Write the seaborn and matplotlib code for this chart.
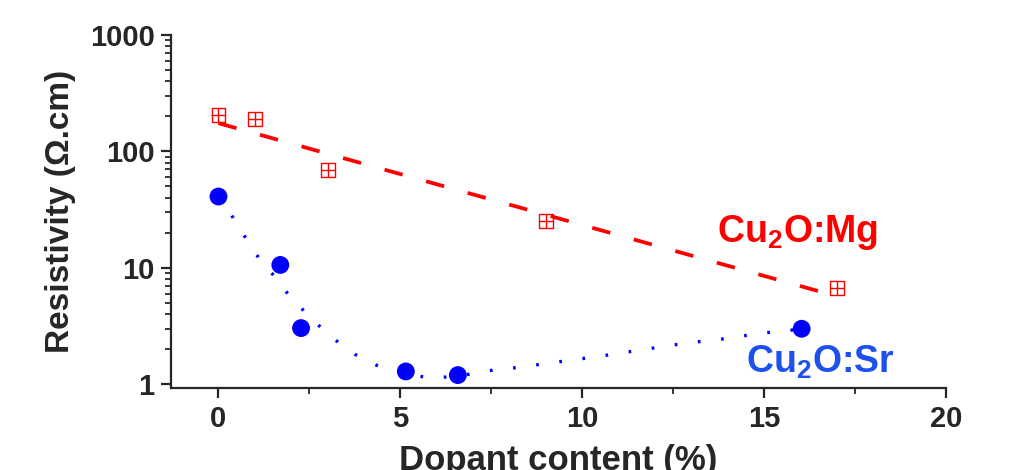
import numpy as np
import pandas as pd
import seaborn as sns
import matplotlib.pyplot as plt

# Cu2O:Mg measured points
mg_x = [0, 1, 3, 9, 17]
mg_y = [204, 189, 69, 25.4, 6.7]
# Cu2O:Mg linear fit (dashed)
mg_fit_x = [0, 17]
mg_fit_y = [175, 5.7]

# Cu2O:Sr measured points
sr_x = [0, 1.7, 2.27, 5.15, 6.58, 16.03]
sr_y = [41, 10.6, 3.04, 1.29, 1.2, 3.0]
# Cu2O:Sr guide curve (dotted)
sr_curve_x = [0, 0.30, 0.55, 0.85, 1.12, 1.48, 1.81, 2.16, 2.55, 2.90, 3.32, 3.75,
              4.19, 4.63, 5.15, 5.67, 6.16, 6.58, 7.18, 7.73, 8.30, 8.88, 10.47,
              12.85, 13.81, 14.93, 16.03]
sr_curve_y = [41, 30.4, 22.6, 16.1, 12.0, 8.9, 6.5, 4.9, 3.7, 2.9, 2.26, 1.81,
              1.52, 1.35, 1.25, 1.15, 1.15, 1.17, 1.27, 1.35, 1.40, 1.49, 1.74,
              2.26, 2.44, 2.75, 2.98]

sns.set_style("ticks")
plt.rcParams['font.family'] = ['Liberation Sans', 'DejaVu Sans']
plt.rcParams['mathtext.fontset'] = 'custom'
plt.rcParams['mathtext.bf'] = 'Liberation Sans:bold'
plt.rcParams['mathtext.rm'] = 'Liberation Sans'

fig = plt.figure(figsize=(10.25, 4.70), dpi=100)
ax = fig.add_axes([0.167, 0.1745, 0.756, 0.751])

red = "#ff0000"
blue = "#0000ff"
blue_txt = "#1e50f0"

# Mg: dashed fit + crossed squares
sns.lineplot(x=mg_fit_x, y=mg_fit_y, ax=ax, color=red, lw=2.7,
             linestyle=(0, (5, 6.5)), sort=False)
sns.scatterplot(x=mg_x, y=mg_y, ax=ax, marker='s', s=100, facecolor='none',
                edgecolor=red, linewidth=1.0, zorder=3)
sns.scatterplot(x=mg_x, y=mg_y, ax=ax, marker='+', s=100, color=red,
                linewidth=1.0, zorder=3)

# Sr: dotted guide + filled circles
sns.lineplot(x=sr_curve_x, y=sr_curve_y, ax=ax, color=blue, lw=2.4,
             linestyle=(0, (0.8, 6.2)), sort=False)
sns.scatterplot(x=sr_x, y=sr_y, ax=ax, marker='o', s=165, color=blue,
                edgecolor='none', zorder=4)

ax.set_yscale('log')
ax.set_xlim(-1.3, 20)
ax.set_ylim(0.93, 1000)
ax.set_xticks([0, 5, 10, 15, 20])
ax.set_xticks([2.5, 7.5, 12.5, 17.5], minor=True)
ax.set_yticks([1, 10, 100, 1000])
ax.set_yticklabels(['1', '10', '100', '1000'])

sns.despine(ax=ax)
for s in ['left', 'bottom']:
    ax.spines[s].set_linewidth(1.6)
ax.tick_params(axis='both', which='major', direction='out', length=7, width=1.6,
               labelsize=21, pad=5)
ax.tick_params(axis='both', which='minor', direction='out', length=4, width=1.3)
for lab in ax.get_xticklabels() + ax.get_yticklabels():
    lab.set_fontweight('bold')

ax.set_xlabel("Dopant content (%)", fontsize=25, fontweight='bold', labelpad=8)
ax.set_ylabel("Resistivity (\u03a9.cm)", fontsize=24, fontweight='bold', labelpad=10)

ax.text(13.7, 16.8, r"Cu$_\mathbf{2}$O:Mg", color=red, fontsize=27,
        fontweight='bold')
ax.text(14.5, 1.25, r"Cu$_\mathbf{2}$O:Sr", color=blue_txt, fontsize=27,
        fontweight='bold')

fig.savefig("out.png", dpi=100)
